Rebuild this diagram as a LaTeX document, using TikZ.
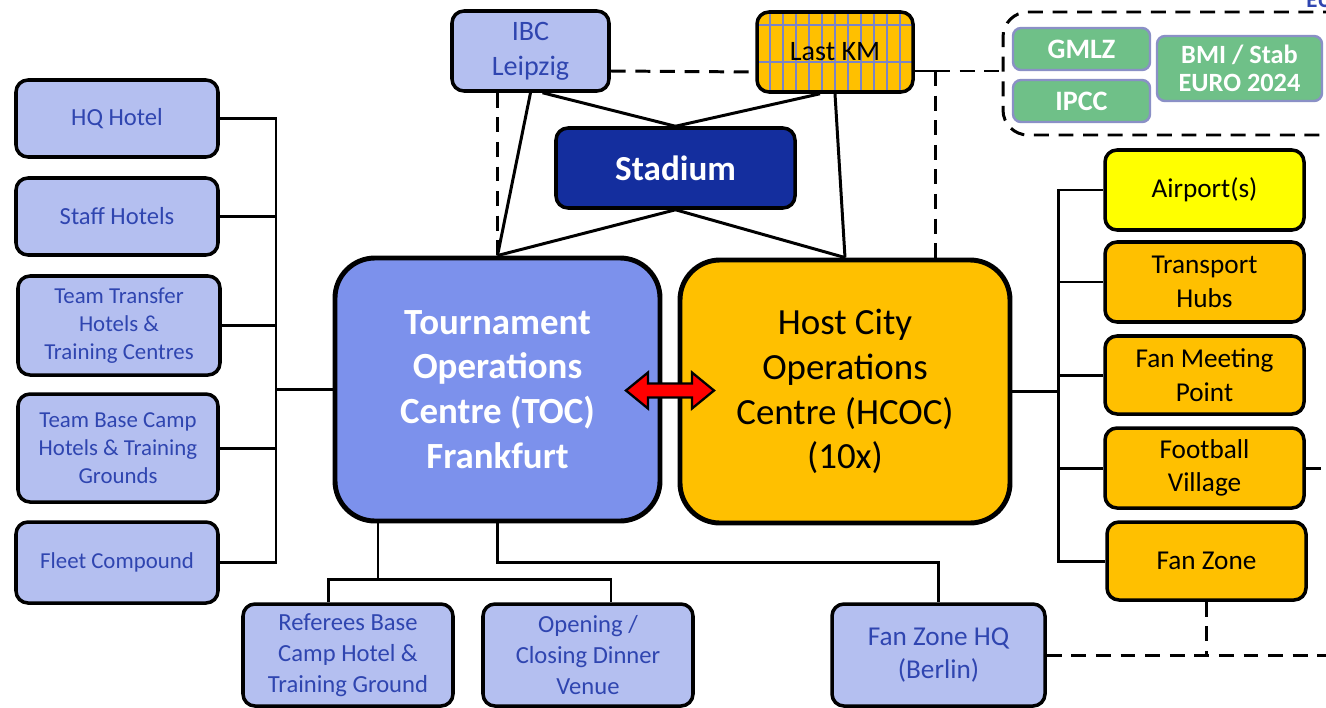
\documentclass[tikz,border=0pt]{standalone}
\usepackage{fontspec}
\setmainfont{Carlito}
\usetikzlibrary{calc}
\definecolor{lblue}{HTML}{B4BFF0}
\definecolor{tblue}{HTML}{2F45B0}
\definecolor{tocblue}{HTML}{7C91EC}
\definecolor{stadblue}{HTML}{142E9E}
\definecolor{orng}{HTML}{FFC000}
\definecolor{yel}{HTML}{FFFF00}
\definecolor{grn}{HTML}{6FC088}
\definecolor{grnedge}{HTML}{8A90C6}
\definecolor{gridc}{HTML}{7B84C8}
\definecolor{arrred}{HTML}{FF0000}
\newcommand{\fsz}[2]{\fontsize{#1}{#2}\selectfont}
\begin{document}
\begin{tikzpicture}[x=0.02cm,y=-0.02cm,
  sz/.style 2 args={minimum width=#1*0.02cm, minimum height=#2*0.02cm},
  base/.style={draw=black, line width=2pt, rounded corners=0.24cm, align=center, inner sep=0pt},
  lb/.style={base, fill=lblue, text=tblue, font=\fsz{13}{16}},
  ob/.style={base, fill=orng, text=black, font=\fsz{15.5}{19}},
  gb/.style={draw=grnedge, line width=1.4pt, fill=grn, rounded corners=0.16cm, text=white, font=\bfseries\fsz{16}{16}, align=center, inner sep=0pt},
  big/.style={draw=black, line width=2.8pt, rounded corners=0.8cm, align=center, inner sep=0pt, font=\fsz{21}{25.5}},
  conn/.style={draw=black, line width=1.7pt},
  dsh/.style={draw=black, line width=1.7pt, dash pattern=on 8.5pt off 5.5pt}
]
\useasboundingbox (0,0) rectangle (1326,707);
\clip (0,0) rectangle (1326,707);
\fill[white] (0,0) rectangle (1326,707);

% top-right cut text
\node[text=tblue, font=\bfseries\fsz{13}{13}, anchor=base west, inner sep=0pt] (eu) at (1306,7) {EU};

% left column
\node[lb, sz={202}{77}, font=\fsz{14}{17}] (hq) at (117,118.5) {HQ Hotel};
\node[lb, sz={202}{77}, font=\fsz{14}{17}] (staff) at (117,216.5) {Staff Hotels};
\node[lb, sz={202}{99}] (transfer) at (119,325.5) {Team Transfer\\Hotels \&\\Training Centres};
\node[lb, sz={200}{108}] (basecamp) at (118,448) {Team Base Camp\\Hotels \& Training\\Grounds};
\node[lb, sz={202}{81}] (fleet) at (117,562.5) {Fleet Compound};

% central
\node[big, fill=tocblue, text=white, font=\bfseries\fsz{21}{25.5}, sz={325}{263}] (toc) at (497.5,389.5)
  {Tournament\\Operations\\Centre (TOC)\\Frankfurt};
\node[big, fill=orng, text=black, sz={330}{263}] (hcoc) at (845,391.5)
  {Host City\\Operations\\Centre (HCOC)\\(10x)};

% top
\node[lb, sz={157}{80}, font=\fsz{16}{20}] (ibc) at (530.5,51) {IBC\\Leipzig};
\node[ob, sz={156}{80}, font=\fsz{16}{20},
  path picture={
    \foreach \k in {0,...,11}
      \draw[gridc, line width=0.7pt] ([xshift=0.26cm+\k*0.26cm]path picture bounding box.north west) -- ++(0,-2cm);
    \draw[gridc, line width=0.7pt] ([yshift=-0.26cm]path picture bounding box.north west) -- ++(4cm,0);
    \draw[gridc, line width=0.7pt] ([yshift=-1.0cm]path picture bounding box.north west) -- ++(4cm,0);
  }] (lastkm) at (835,52) {Last KM};
\node[base, fill=stadblue, text=white, font=\bfseries\fsz{20}{22}, sz={239}{80}] (stadium) at (675.5,168) {Stadium};

% group
\node[draw=black, line width=1.7pt, dash pattern=on 8.5pt off 5.5pt, rounded corners=0.5cm, sz={360}{123}] (grp) at (1183,73.5) {};
\node[gb, sz={137}{42}] (gmlz) at (1081.5,49) {GMLZ};
\node[gb, sz={137}{42}] (ipcc) at (1081.5,101) {IPCC};
\node[gb, sz={165}{65}, font=\bfseries\fsz{15}{16}] (bmi) at (1239.5,68.5) {BMI / Stab\\EURO 2024};

% right column
\node[ob, fill=yel, sz={199}{80}] (airport) at (1204.5,190) {Airport(s)};
\node[ob, sz={199}{80}] (transport) at (1204.5,282) {Transport\\Hubs};
\node[ob, sz={199}{78}] (fanmeet) at (1204.5,375) {Fan Meeting\\Point};
\node[ob, sz={199}{80}] (fv) at (1204.5,468) {Football\\Village};
\node[ob, sz={199}{78}] (fanzone) at (1206.5,561) {Fan Zone};

% bottom
\node[lb, sz={210}{102}, font=\fsz{14}{17.5}] (ref) at (348,655) {Referees Base\\Camp Hotel \&\\Training Ground};
\node[lb, sz={210}{102}, font=\fsz{14}{17.5}] (opening) at (588,655) {Opening /\\Closing Dinner\\Venue};
\node[lb, sz={213}{102}, font=\fsz{15.5}{19}] (fzhq) at (938.5,655) {Fan Zone HQ\\(Berlin)};

% coordinates
\coordinate (lbus) at (276,389.5);
\coordinate (rbus) at (1058,391.5);
\coordinate (b1) at (378,579);
\coordinate (b2) at (700,562);
\coordinate (j1) at (935,71);
\coordinate (redge1) at (1340,468);
\coordinate (redge2) at (1340,655);

% left bus
\draw[conn] (hq.east) -| (lbus |- fleet.east) -- (fleet.east);
\draw[conn] (staff.east) -- (staff.east -| lbus);
\draw[conn] (transfer.east) -- (transfer.east -| lbus);
\draw[conn] (basecamp.east) -- (basecamp.east -| lbus);
\draw[conn] (lbus) -- (toc.west);

% right bus
\draw[conn] (airport.west) -| (rbus |- fanzone.west) -- (fanzone.west);
\draw[conn] (transport.west) -- (transport.west -| rbus);
\draw[conn] (fanmeet.west) -- (fanmeet.west -| rbus);
\draw[conn] (fv.west) -- (fv.west -| rbus);
\draw[conn] (hcoc.east) -- (rbus);

% top connectors
\draw[conn] (ibc.south) -- (toc.north);
\draw[conn] ([xshift=0.24cm]ibc.south) -- (stadium.north);
\draw[conn] ([xshift=-0.3cm]lastkm.south) -- (stadium.north);
\draw[conn] (lastkm.south) -- (hcoc.north);
\draw[conn] (stadium.south) -- (toc.north);
\draw[conn] (stadium.south) -- (hcoc.north);

% dashed
\draw[dsh] (toc.north |- ibc.south) -- (toc.north);
\draw[dsh] ([yshift=-0.4cm]ibc.east) -- ([yshift=-0.4cm]lastkm.west);
\draw[conn] (lastkm.east |- j1) -- (j1);
\draw[dsh] (j1) -- (grp.west |- j1);
\draw[dsh] (j1) -- (j1 |- hcoc.north);
\draw[dsh] (fv.east) -- (redge1);
\draw[dsh] (fanzone.south) -- (fanzone.south |- fzhq.east);
\draw[dsh] (fzhq.east) -- (redge2);

% bottom connectors
\draw[conn] (b1 |- toc.south) -- (b1);
\draw[conn] ([xshift=-0.4cm]ref.north) |- (b1) -| ([xshift=0.46cm]opening.north);
\draw[conn] (toc.south) |- (b2) -| (fzhq.north);

% red double arrow between TOC and HCOC
\coordinate (mid) at ($(toc.east)!0.5!(hcoc.west)$);
\draw[fill=arrred, draw=black, line width=1.3pt, line join=miter, shift={(mid)}]
  (-44,0) -- (-22,-18) -- (-22,-7) -- (22,-7) -- (22,-18) -- (44,0) -- (22,18) -- (22,7) -- (-22,7) -- (-22,18) -- cycle;
\end{tikzpicture}
\end{document}
